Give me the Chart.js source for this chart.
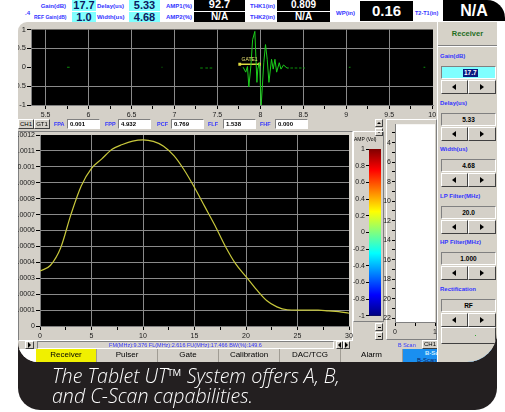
<!DOCTYPE html>
<html>
<head>
<meta charset="utf-8">
<title>Tablet UT - spectrum</title>
<script src="https://cdn.jsdelivr.net/npm/chart.js@4.4.1/dist/chart.umd.min.js"></script>
<style>
  body { margin:0; width:505px; height:412px; background:#fff; position:relative; overflow:hidden;
         font-family:"Liberation Sans", Arial, sans-serif; }
  div, canvas { position:absolute; box-sizing:border-box; }
  #frame { left:18px; top:240px; width:479px; height:170px; background:#231f20; border-radius:0 0 22px 22px; }
  #shot { left:18px; top:22px; width:479px; height:340px; overflow:hidden; background:#d4d0c8;
          border-radius:9px 0 30px 20px; }
  #inner { left:-18px; top:-22px; width:505px; height:412px; }
  .hl { font-size:6px; font-weight:bold; color:#3434ff; white-space:nowrap; }
  .cy { background:#80ffff; color:#0a1a60; font-weight:bold; text-align:center; }
  .bk { background:#000; color:#fff; font-weight:bold; text-align:center; }
  .rb { background:#d4d0c8; border:1px solid; border-color:#fff #404040 #404040 #fff; }
  .sk { border:1px solid; border-color:#808080 #fff #fff #808080; }
  .tx { font-size:6px; color:#000; white-space:nowrap; text-align:center; }
  .tab { top:349px; height:14px; border-right:1px solid #a09c94; background:#d4d0c8; font-size:8px; text-align:center; line-height:12px; }
  .la, .ra, .ua, .da { width:0; height:0; }
  .la { border-top:3px solid transparent; border-bottom:3px solid transparent; border-right:4px solid #000; }
  .ra { border-top:3px solid transparent; border-bottom:3px solid transparent; border-left:4px solid #000; }
  .ua { border-left:2px solid transparent; border-right:2px solid transparent; border-bottom:2px solid #000; }
  .da { border-left:2px solid transparent; border-right:2px solid transparent; border-top:2px solid #000; }
  #caption { left:52px; top:366px; color:#fff; font-family:"Open Sans", sans-serif; font-style:italic; font-weight:300;
             font-size:19.6px; line-height:20px; white-space:nowrap; }
</style>
</head>
<body>

<div id="frame"></div>

<!-- readouts on top -->
<div class="hl" style="left:25px;top:10px">.4</div>
<div class="hl" style="left:36px;top:3px;width:30px;text-align:right">Gain(dB)</div>
<div class="cy" style="left:72px;top:0;width:24px;height:11px;font-size:11px;line-height:10px">17.7</div>
<div class="hl" style="left:97px;top:3px">Delay(us)</div>
<div class="cy" style="left:129px;top:0;width:31px;height:11px;font-size:11px;line-height:10px">5.33</div>
<div class="hl" style="left:166px;top:3px">AMP1(%)</div>
<div class="bk" style="left:194px;top:0;width:51px;height:11px;font-size:11px;line-height:9px">92.7</div>
<div class="hl" style="left:250px;top:3px">THK1(in)</div>
<div class="bk" style="left:277px;top:0;width:53px;height:11px;font-size:10px;line-height:9px">0.809</div>

<div class="hl" style="left:34px;top:14px;width:32px;text-align:right;font-size:5px">REF Gain(dB)</div>
<div class="cy" style="left:72px;top:12px;width:24px;height:10px;font-size:11px;line-height:10px">1.0</div>
<div class="hl" style="left:97px;top:14px">Width(us)</div>
<div class="cy" style="left:129px;top:12px;width:31px;height:10px;font-size:11px;line-height:10px">4.68</div>
<div class="hl" style="left:166px;top:14px">AMP2(%)</div>
<div class="bk" style="left:194px;top:12px;width:51px;height:10px;font-size:10px;line-height:10px">N/A</div>
<div class="hl" style="left:250px;top:14px">THK2(in)</div>
<div class="bk" style="left:277px;top:12px;width:53px;height:10px;font-size:10px;line-height:10px">N/A</div>

<div class="hl" style="left:336px;top:10px">WP(in)</div>
<div class="bk" style="left:360px;top:1px;width:53px;height:20px;font-size:15px;line-height:20px">0.16</div>
<div class="hl" style="left:415px;top:10px;font-size:5.5px">T2-T1(in)</div>
<div class="bk" style="left:443px;top:0;width:62px;height:21px;font-size:16px;line-height:21px;border-top-right-radius:18px">N/A</div>

<div id="shot">
 <div id="inner">
  <!-- A-scan -->
  <canvas id="ascan" width="440" height="97" style="left:1px;top:24px"></canvas>

  <!-- peak readings row -->
  <div class="rb tx" style="left:18px;top:119px;width:16px;height:10px;line-height:8px">CH1</div>
  <div class="rb tx" style="left:34px;top:119px;width:16px;height:10px;line-height:8px">GT1</div>
  <div class="hl" style="left:54px;top:121px;font-size:5.5px">FPA</div>
  <div class="sk tx" style="left:67px;top:119px;width:33px;height:10px;background:#fff;text-align:left;padding-left:2px;line-height:8px;font-weight:bold">0.001</div>
  <div class="hl" style="left:105px;top:121px;font-size:5.5px">FPP</div>
  <div class="sk tx" style="left:118px;top:119px;width:33px;height:10px;background:#fff;text-align:left;padding-left:2px;line-height:8px;font-weight:bold">4.932</div>
  <div class="hl" style="left:157px;top:121px;font-size:5.5px">PCF</div>
  <div class="sk tx" style="left:171px;top:119px;width:33px;height:10px;background:#fff;text-align:left;padding-left:2px;line-height:8px;font-weight:bold">0.769</div>
  <div class="hl" style="left:208px;top:121px;font-size:5.5px">FLF</div>
  <div class="sk tx" style="left:223px;top:119px;width:33px;height:10px;background:#fff;text-align:left;padding-left:2px;line-height:8px;font-weight:bold">1.538</div>
  <div class="hl" style="left:260px;top:121px;font-size:5.5px">FHF</div>
  <div class="sk tx" style="left:275px;top:119px;width:33px;height:10px;background:#fff;text-align:left;padding-left:2px;line-height:8px;font-weight:bold">0.000</div>
  <div class="rb" style="left:375px;top:119px;width:8px;height:8px"><div class="ua" style="left:1px;top:2px"></div></div>
  <div class="rb" style="left:375px;top:128px;width:8px;height:8px"><div class="da" style="left:1px;top:2px"></div></div>

  <!-- spectrum, colour bar, C-scan -->
  <div class="sk" style="left:18px;top:131px;width:335px;height:210px"></div>
  <canvas id="spec" width="355" height="211" style="left:0;top:129px"></canvas>
  <div style="left:353px;top:131px;width:31px;height:191px;border:1px solid;border-color:#fff #808080 #808080 #fff"></div>
  <div class="tx" style="left:354px;top:136px;font-size:5px">AMP (Vol)</div>
  <canvas id="cbar" width="34" height="178" style="left:349px;top:143px"></canvas>
  <div class="rb" style="left:375px;top:323px;width:8px;height:8px"><div style="left:2px;top:3px;width:3px;height:1px;background:#000"></div></div>
  <div class="rb" style="left:375px;top:332px;width:8px;height:8px"><div style="left:2px;top:3px;width:3px;height:1px;background:#000"></div></div>
  <div style="left:386px;top:119px;width:51px;height:221px;border:1px solid;border-color:#fff #808080 #808080 #fff"></div>
  <canvas id="cscan" width="66" height="217" style="left:375px;top:119px"></canvas>

  <!-- status row -->
  <div class="rb" style="left:25px;top:341px;width:9px;height:8px"><div class="ra" style="left:2px;top:0;border-width:3px 0 3px 3px"></div></div>
  <div class="sk" style="left:37px;top:341px;width:297px;height:8px;background:#d8d4cc;color:#3434ff;font-size:5.5px;text-align:center;line-height:6px;white-space:nowrap">FM(MHz):9.376 FL(MHz):2.616 FU(MHz):17.466 BW(%):149.6</div>
  <div class="rb" style="left:336px;top:341px;width:7px;height:8px"><div class="la" style="left:1px;top:0;border-width:3px 3px 3px 0"></div></div>
  <div class="rb" style="left:343px;top:341px;width:7px;height:8px"><div class="ra" style="left:1px;top:0;border-width:3px 0 3px 3px"></div></div>
  <div class="hl" style="left:398px;top:342px;font-weight:normal;font-size:5.5px">B Scan</div>
  <div class="rb tx" style="left:422px;top:340px;width:16px;height:9px;line-height:7px">CH1</div>

  <!-- tabs -->
  <div style="left:18px;top:349px;width:18px;height:14px;background:#fff"></div>
  <div class="tab" style="left:36px;width:61px;background:#f0f000">Receiver</div>
  <div class="tab" style="left:97px;width:61px">Pulser</div>
  <div class="tab" style="left:158px;width:61px">Gate</div>
  <div class="tab" style="left:219px;width:61px">Calibration</div>
  <div class="tab" style="left:280px;width:61px">DAC/TCG</div>
  <div class="tab" style="left:341px;width:62px">Alarm</div>
  <div class="tab" style="left:403px;width:94px;background:#1a8ff0;border:none">
    <div style="left:22px;top:1px;color:#cfefff;font-size:6px;line-height:7px;font-weight:bold">B-Scan</div>
    <div style="left:14px;top:8px;color:#0a2060;font-size:6px;line-height:7px">B-Scan IDLE</div>
    <div style="left:55px;top:3px;width:6px;height:5px;background:#0a2060;border:1px solid #fff"></div>
    <div style="left:74px;top:2px;width:7px;height:6px;background:#e8e8e8;border:1px solid #555"></div>
  </div>

  <!-- right control panel -->
  <div id="panel" style="left:437px;top:22px;width:60px;height:340px;background:#d6d2c8;border-left:1px solid #fff">
  </div>
 </div>
</div>

<div id="caption">The Tablet UT™ System offers A, B,<br>and C-Scan capabilities.</div>

<script>
// A-scan burst (time in us, amplitude)
const waveTime = [7.80, 7.83, 7.85, 7.866, 7.89, 7.91, 7.936, 7.96, 7.97, 7.99, 8.01, 8.04, 8.06, 8.08, 8.10, 8.13, 8.15, 8.17, 8.19, 8.22, 8.24, 8.27, 8.31, 8.33];
const waveAmp  = [0, -0.13, 0.02, -0.52, 0.04, 0.73, 0.95, -0.4, -0.05, 0.12, -1, 0.12, 0.6, 0.21, -0.4, 0.21, -0.05, 0.21, -0.13, 0.12, -0.05, 0.06, -0.02, -0.02];
// short noise dashes along the baseline
const noiseStart = [5.75, 6.85, 7.30, 7.36, 7.41, 8.35, 8.40, 8.45, 8.50, 9.03, 9.90];
const noiseEnd   = [5.78, 6.86, 7.33, 7.39, 7.44, 8.38, 8.43, 8.48, 8.52, 9.05, 9.92];
const noiseLevel = [0, 0, -0.02, -0.02, -0.02, -0.02, -0.02, -0.02, -0.02, 0, 0];
// gate 1
const gateTime  = [7.76, 7.99];
const gateLevel = [0.08, 0.08];
const aScanTicks = [5.5, 5.75, 6, 6.25, 6.5, 6.75, 7, 7.25, 7.5, 7.75, 8, 8.25, 8.5, 8.75, 9, 9.25, 9.5, 9.75, 10];

// frequency spectrum (MHz, volts)
const specFreq = [0, 1, 2, 3, 4, 5, 6, 7, 8, 9, 10, 11, 12, 13, 14, 15, 16, 17, 18, 19, 20, 21, 22, 23, 24, 25, 26, 27, 28, 29, 30];
const specAmp  = [0.000345, 0.00038, 0.00049, 0.0007, 0.00088, 0.00099, 0.00105, 0.00111, 0.00114, 0.001162, 0.00117,
                  0.00116, 0.00113, 0.00107, 0.00098, 0.00087, 0.00075, 0.00063, 0.0005, 0.00039, 0.00031,
                  0.00023, 0.00016, 0.00012, 0.000102, 0.0001, 0.0001, 0.0001, 0.000095, 0.00009, 0.00008];

// colour bar range (volts)
const ampRange = [-1, 1];
const ampStops  = [0, 0.125, 0.375, 0.625, 0.875, 1];
const ampColors = ['#00007f', '#0000ff', '#00ffff', '#ffff00', '#ff0000', '#7f0000'];

// right panel settings
const panelItems = [['Gain(dB)', '17.7'], ['Delay(us)', '5.33'], ['Width(us)', '4.68'],
                    ['LP Filter(MHz)', '20.0'], ['HP Filter(MHz)', '1.000'], ['Rectification', 'RF']];

Chart.defaults.font.family = '"Liberation Sans", Arial, sans-serif';
Chart.defaults.font.size = 7;
Chart.defaults.color = '#1a1a1a';
Chart.defaults.animation = false;

// paint plot area background
Chart.register({
  id: 'plotBg',
  beforeDraw(chart, args, opts) {
    const a = chart.chartArea;
    chart.ctx.save();
    chart.ctx.fillStyle = opts.color || '#000';
    chart.ctx.fillRect(a.left, a.top, a.width, a.height);
    chart.ctx.restore();
  }
});

const GRID = '#8a8a8a';
const NONE = 'rgba(0,0,0,0)';
const common = {
  responsive: false,
  plugins: { legend: { display: false }, tooltip: { enabled: false } },
  events: []
};

// A-scan
const gateLabel = {
  id: 'gateLabel',
  afterDatasetsDraw(chart) {
    const x = chart.scales.x, y = chart.scales.y;
    const ctx = chart.ctx;
    ctx.save();
    ctx.fillStyle = '#e8e070';
    ctx.font = '5px "Liberation Sans", Arial';
    ctx.textAlign = 'center';
    ctx.fillText('GATE1', x.getPixelForValue((gateTime[0] + gateTime[1]) / 2), y.getPixelForValue(gateLevel[0]) - 3);
    ctx.restore();
  }
};

const noiseData = [];
noiseStart.forEach((t, i) => {
  noiseData.push({ x: t, y: noiseLevel[i] }, { x: noiseEnd[i], y: noiseLevel[i] }, { x: noiseEnd[i], y: null });
});

new Chart(document.getElementById('ascan'), {
  type: 'line',
  data: {
    datasets: [
      { data: waveTime.map((t, i) => ({ x: t, y: waveAmp[i] })), borderColor: '#1ccc1c', borderWidth: 1, pointRadius: 0, tension: 0 },
      { data: noiseData, borderColor: '#0b8f0b', borderWidth: 1, pointRadius: 0, spanGaps: false },
      { data: gateTime.map((t, i) => ({ x: t, y: gateLevel[i] })), borderColor: '#e0dc40', borderWidth: 1.5,
        pointRadius: 2, pointStyle: 'rect', pointBackgroundColor: '#e0dc40', pointBorderWidth: 0 }
    ]
  },
  options: {
    ...common,
    layout: { padding: { top: 4, right: 8 } },
    plugins: { ...common.plugins, plotBg: { color: '#000' } },
    scales: {
      x: {
        type: 'linear', min: 5.33, max: 10.01,
        afterBuildTicks: s => { s.ticks = aScanTicks.map(v => ({ value: v })); },
        afterFit: s => { s.height = 16; },
        ticks: { autoSkip: false, maxRotation: 0, padding: 2, callback: v => Number.isInteger(v * 2) ? String(v) : '' },
        grid: { color: c => (c.tick && Number.isInteger(c.tick.value * 2) && c.tick.value < 10) ? GRID : NONE, tickColor: '#000', tickLength: 4 },
        border: { color: '#808080' }
      },
      y: {
        min: -1, max: 1,
        afterFit: s => { s.width = 30; },
        ticks: { stepSize: 0.5, padding: 1, font: { size: 7.5 }, callback: v => String(v) },
        grid: { color: c => (c.tick && Math.abs(c.tick.value) === 0.5) ? GRID : NONE, tickColor: '#000', tickLength: 4 },
        border: { color: '#808080' }
      }
    }
  },
  plugins: [gateLabel]
});

// spectrum
new Chart(document.getElementById('spec'), {
  type: 'line',
  data: {
    datasets: [{ data: specFreq.map((f, i) => ({ x: f, y: specAmp[i] })), borderColor: '#c8c83c', borderWidth: 1.2,
                 pointRadius: 0, cubicInterpolationMode: 'monotone' }]
  },
  options: {
    ...common,
    layout: { padding: { top: 6, right: 6 } },
    plugins: { ...common.plugins, plotBg: { color: '#000' } },
    scales: {
      x: {
        type: 'linear', min: 0, max: 30,
        afterFit: s => { s.height = 14; },
        ticks: { stepSize: 2.5, autoSkip: false, maxRotation: 0, padding: 2, callback: v => v % 5 === 0 ? String(v) : '' },
        grid: { color: c => (c.tick && c.tick.value % 5 === 0 && c.tick.value > 0 && c.tick.value < 30) ? GRID : NONE, tickColor: '#000', tickLength: 4 },
        border: { color: '#808080' }
      },
      y: {
        min: 0, max: 0.0012,
        afterFit: s => { s.width = 40; },
        ticks: { stepSize: 0.0001, autoSkip: false, padding: 1, callback: v => String(+v.toFixed(4)) },
        grid: { color: c => (c.tick && c.tick.value > 0.00001 && c.tick.value < 0.00119) ? GRID : NONE, tickColor: '#000', tickLength: 4 },
        border: { color: '#808080' }
      }
    }
  }
});

// colour bar
function jet(chart) {
  const a = chart.chartArea;
  if (!a) return '#0f0';
  const g = chart.ctx.createLinearGradient(0, a.bottom, 0, a.top);
  ampStops.forEach((s, i) => g.addColorStop(s, ampColors[i]));
  return g;
}
new Chart(document.getElementById('cbar'), {
  type: 'bar',
  data: { labels: ['AMP'], datasets: [{ data: [ampRange], backgroundColor: c => jet(c.chart), borderWidth: 0,
                                         barPercentage: 1, categoryPercentage: 1 }] },
  options: {
    ...common,
    layout: { padding: { top: 6, right: 2, bottom: 4 } },
    scales: {
      x: { display: false },
      y: {
        min: -1, max: 1,
        afterFit: s => { s.width = 20; },
        ticks: { stepSize: 0.2, autoSkip: false, padding: 1, callback: v => String(+v.toFixed(1)) },
        grid: { drawOnChartArea: false, tickColor: '#000', tickLength: 3 },
        border: { color: '#000' }
      }
    }
  }
});

// C-scan (empty)
new Chart(document.getElementById('cscan'), {
  type: 'scatter',
  data: { datasets: [] },
  options: {
    ...common,
    layout: { padding: { top: 5, right: 6 } },
    plugins: { ...common.plugins, plotBg: { color: '#fff' } },
    scales: {
      x: {
        type: 'linear', min: 0, max: 1,
        afterFit: s => { s.height = 14; },
        ticks: { stepSize: 0.5, autoSkip: false, maxRotation: 0, padding: 2, callback: v => Number.isInteger(v) ? String(v) : '' },
        grid: { drawOnChartArea: false, tickColor: '#000', tickLength: 4 },
        border: { color: '#808080' }
      },
      y: {
        type: 'linear', reverse: true, min: 2.1, max: 22.4,
        afterFit: s => { s.width = 20; },
        ticks: { stepSize: 1, includeBounds: false, autoSkip: false, padding: 1, callback: v => v % 2 === 0 ? String(v) : '' },
        grid: { drawOnChartArea: false, tickColor: '#000', tickLength: 3 },
        border: { color: '#808080' }
      }
    }
  }
});

// right panel controls
const panel = document.getElementById('panel');
let html = '<div style="left:0;top:7px;width:59px;text-align:center;color:#1e6e1e;font-weight:bold;font-size:7.5px">Receiver</div>' +
           '<div style="left:0;top:23px;width:59px;height:2px;border-top:1px solid #808080;border-bottom:1px solid #fff"></div>';
panelItems.forEach(([label, value], i) => {
  const y = 31 + i * 46.6;
  html += `<div class="hl" style="left:2px;top:${y}px">${label}</div>`;
  if (i === 0) {
    html += `<div class="sk" style="left:3px;top:${y + 13}px;width:55px;height:13px;background:#80ffff">` +
            `<div style="left:21px;top:2px;background:#0a1a80;color:#fff;font-size:6.5px;font-weight:bold;line-height:8px;padding:0 1px">${value}</div></div>`;
  } else {
    html += `<div class="sk tx" style="left:3px;top:${y + 13}px;width:55px;height:13px;background:#d4d0c8;font-weight:bold;font-size:6.5px;line-height:11px">${value}</div>`;
  }
  html += `<div class="rb" style="left:3px;top:${y + 27}px;width:27px;height:14px"><div class="la" style="left:10px;top:3px"></div></div>` +
          `<div class="rb" style="left:30px;top:${y + 27}px;width:28px;height:14px"><div class="ra" style="left:11px;top:3px"></div></div>`;
});
html += '<div class="rb" style="left:3px;top:305px;width:55px;height:17px"><div style="left:33px;top:7px;width:1px;height:1px;background:#3a3"></div></div>';
panel.innerHTML = html;
</script>
</body>
</html>
